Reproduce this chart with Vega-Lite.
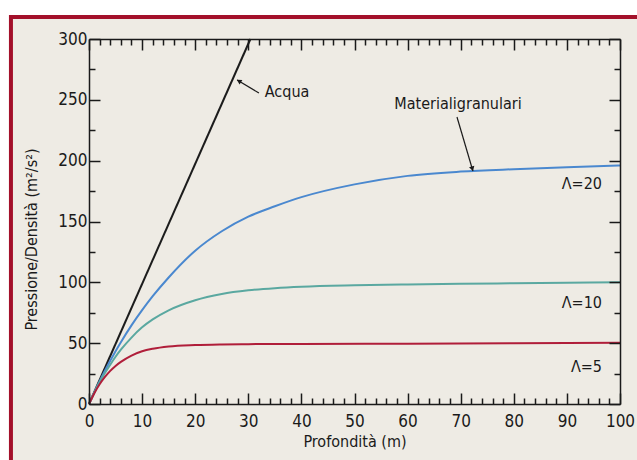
{
  "$schema": "https://vega.github.io/schema/vega-lite/v6.json",
  "width": 531,
  "height": 365,
  "autosize": {"type": "none"},
  "padding": {"left": 89, "top": 39, "right": 17, "bottom": 56},
  "background": "white",
  "config": {
    "view": {"stroke": null},
    "font": "'Liberation Sans Narrow', 'DejaVu Sans Condensed', 'Roboto Condensed', 'Liberation Sans', sans-serif",
    "axis": {
      "domainColor": "#1a1a1a",
      "domainWidth": 1.5,
      "tickColor": "#1a1a1a",
      "tickWidth": 1.5,
      "grid": false,
      "labelFont": "'Liberation Sans Narrow', 'DejaVu Sans Condensed', 'Roboto Condensed', 'Liberation Sans', sans-serif",
      "labelFontSize": 17,
      "labelColor": "#1a1a1a",
      "titleFont": "'Liberation Sans Narrow', 'DejaVu Sans Condensed', 'Roboto Condensed', 'Liberation Sans', sans-serif",
      "titleFontSize": 16,
      "titleFontWeight": "normal",
      "titleColor": "#1a1a1a"
    }
  },
  "datasets": {
    "curves": [
      {"series": "Acqua", "x": 0, "y": 0},
      {"series": "Acqua", "x": 30.4, "y": 300},
      {"series": "L20", "x": 0, "y": 0},
      {"series": "L20", "x": 1, "y": 9.6},
      {"series": "L20", "x": 2, "y": 18.7},
      {"series": "L20", "x": 3, "y": 27.3},
      {"series": "L20", "x": 4, "y": 35.5},
      {"series": "L20", "x": 5, "y": 43.4},
      {"series": "L20", "x": 6, "y": 50.8},
      {"series": "L20", "x": 8, "y": 64.6},
      {"series": "L20", "x": 10, "y": 77.1},
      {"series": "L20", "x": 12, "y": 88.6},
      {"series": "L20", "x": 15, "y": 104},
      {"series": "L20", "x": 20, "y": 126},
      {"series": "L20", "x": 25, "y": 142},
      {"series": "L20", "x": 30, "y": 154},
      {"series": "L20", "x": 35, "y": 162.5},
      {"series": "L20", "x": 40, "y": 170},
      {"series": "L20", "x": 50, "y": 180.5},
      {"series": "L20", "x": 60, "y": 187.5},
      {"series": "L20", "x": 70, "y": 191},
      {"series": "L20", "x": 80, "y": 193},
      {"series": "L20", "x": 90, "y": 194.6},
      {"series": "L20", "x": 100, "y": 196},
      {"series": "L10", "x": 0, "y": 0},
      {"series": "L10", "x": 1, "y": 9.3},
      {"series": "L10", "x": 2, "y": 17.8},
      {"series": "L10", "x": 3, "y": 25.4},
      {"series": "L10", "x": 4, "y": 32.3},
      {"series": "L10", "x": 5, "y": 38.8},
      {"series": "L10", "x": 6, "y": 44.6},
      {"series": "L10", "x": 8, "y": 54.6},
      {"series": "L10", "x": 10, "y": 63},
      {"series": "L10", "x": 12, "y": 69.5},
      {"series": "L10", "x": 15, "y": 77},
      {"series": "L10", "x": 20, "y": 85.3},
      {"series": "L10", "x": 25, "y": 90.4},
      {"series": "L10", "x": 30, "y": 93.4},
      {"series": "L10", "x": 35, "y": 95.2},
      {"series": "L10", "x": 40, "y": 96.4},
      {"series": "L10", "x": 50, "y": 97.6},
      {"series": "L10", "x": 60, "y": 98.3},
      {"series": "L10", "x": 70, "y": 98.8},
      {"series": "L10", "x": 80, "y": 99.2},
      {"series": "L10", "x": 90, "y": 99.6},
      {"series": "L10", "x": 100, "y": 100},
      {"series": "L5", "x": 0, "y": 0},
      {"series": "L5", "x": 1, "y": 8.9},
      {"series": "L5", "x": 2, "y": 16.2},
      {"series": "L5", "x": 3, "y": 22.2},
      {"series": "L5", "x": 4, "y": 27.2},
      {"series": "L5", "x": 5, "y": 31.3},
      {"series": "L5", "x": 6, "y": 34.6},
      {"series": "L5", "x": 8, "y": 39.8},
      {"series": "L5", "x": 10, "y": 43.3},
      {"series": "L5", "x": 12, "y": 45.4},
      {"series": "L5", "x": 15, "y": 47.3},
      {"series": "L5", "x": 20, "y": 48.5},
      {"series": "L5", "x": 25, "y": 49},
      {"series": "L5", "x": 30, "y": 49.2},
      {"series": "L5", "x": 40, "y": 49.4},
      {"series": "L5", "x": 60, "y": 49.6},
      {"series": "L5", "x": 80, "y": 49.9},
      {"series": "L5", "x": 100, "y": 50.3}
    ],
    "labelsCenter": [
      {"label": "Acqua", "x": 37.3, "y": 256.4},
      {"label": "Materialigranulari", "x": 69.5, "y": 246.6}
    ],
    "labelsRight": [
      {"label": "Λ=20", "x": 96.6, "y": 180.8},
      {"label": "Λ=10", "x": 96.6, "y": 83},
      {"label": "Λ=5", "x": 96.6, "y": 30.4}
    ],
    "arrows": [
      {"name": "Acqua", "x": 32.0, "y": 255.6, "x2": 27.9, "y2": 266.3},
      {"name": "Materiali", "x": 69.3, "y": 235.9, "x2": 72.3, "y2": 191.5}
    ],
    "headAcqua": [{"x": 28.36, "y": 265.1}],
    "headMateriali": [{"x": 72.15, "y": 193.9}]
  },
  "layer": [
    {
      "data": {"values": [{}]},
      "mark": {"type": "rect", "fill": "#EEEBE4", "stroke": "#A3102A", "strokeWidth": 4},
      "encoding": {
        "x": {"datum": -14.7, "type": "quantitative", "scale": {"domain": [0, 100], "nice": false}, "axis": null},
        "x2": {"datum": 140},
        "y": {"datum": 318.1, "type": "quantitative", "scale": {"domain": [0, 300], "nice": false}, "axis": null},
        "y2": {"datum": -90}
      }
    },
    {
      "data": {"name": "curves"},
      "mark": {"type": "line", "strokeWidth": 2, "interpolate": "monotone"},
      "encoding": {
        "x": {
          "field": "x", "type": "quantitative",
          "scale": {"domain": [0, 100], "nice": false},
          "axis": {
            "zindex": 2,
            "orient": "bottom",
            "values": [0,2,4,6,8,10,12,14,16,18,20,22,24,26,28,30,32,34,36,38,40,42,44,46,48,50,52,54,56,58,60,62,64,66,68,70,72,74,76,78,80,82,84,86,88,90,92,94,96,98,100],
            "tickSize": {"condition": {"test": "datum.value % 10 === 0", "value": -11}, "value": -6},
            "labelExpr": "datum.value % 10 === 0 ? datum.label : ''",
            "labelPadding": 20,
            "labelFlush": false,
            "labelOverlap": false,
            "title": "Profondità (m)",
            "titleY": 37,
            "titleBaseline": "middle"
          }
        },
        "y": {
          "field": "y", "type": "quantitative",
          "scale": {"domain": [0, 300], "nice": false},
          "axis": {
            "zindex": 2,
            "orient": "left",
            "values": [0,25,50,75,100,125,150,175,200,225,250,275,300],
            "tickSize": {"condition": {"test": "datum.value % 50 === 0", "value": -11}, "value": -6},
            "labelExpr": "datum.value % 50 === 0 ? datum.label : ''",
            "labelPadding": 13,
            "labelFlush": false,
            "labelOverlap": false,
            "title": "Pressione/Densità (m²/s²)",
            "titleAngle": -90,
            "titleAlign": "center",
            "titleBaseline": "middle",
            "titleX": -58,
            "titleY": 200
          }
        },
        "color": {
          "field": "series", "type": "nominal",
          "scale": {"domain": ["Acqua", "L20", "L10", "L5"], "range": ["#1c1c1c", "#4a88cf", "#5aa8a0", "#b01e3a"]},
          "legend": null
        }
      }
    },
    {
      "data": {"name": "arrows"},
      "mark": {"type": "rule", "color": "#1a1a1a", "strokeWidth": 1.2},
      "encoding": {
        "x": {"field": "x", "type": "quantitative", "axis": null},
        "y": {"field": "y", "type": "quantitative", "axis": null},
        "x2": {"field": "x2"},
        "y2": {"field": "y2"}
      }
    },
    {
      "data": {"name": "headAcqua"},
      "mark": {"type": "point", "shape": "triangle", "angle": 300.6, "filled": true, "color": "#1a1a1a", "size": 30, "opacity": 1},
      "encoding": {
        "x": {"field": "x", "type": "quantitative", "axis": null},
        "y": {"field": "y", "type": "quantitative", "axis": null}
      }
    },
    {
      "data": {"name": "headMateriali"},
      "mark": {"type": "point", "shape": "triangle", "angle": 163.5, "filled": true, "color": "#1a1a1a", "size": 30, "opacity": 1},
      "encoding": {
        "x": {"field": "x", "type": "quantitative", "axis": null},
        "y": {"field": "y", "type": "quantitative", "axis": null}
      }
    },
    {
      "data": {"name": "labelsCenter"},
      "mark": {"type": "text", "align": "center", "baseline": "middle", "fontSize": 16, "color": "#1a1a1a"},
      "encoding": {
        "x": {"field": "x", "type": "quantitative", "axis": null},
        "y": {"field": "y", "type": "quantitative", "axis": null},
        "text": {"field": "label"}
      }
    },
    {
      "data": {"name": "labelsRight"},
      "mark": {"type": "text", "align": "right", "baseline": "middle", "fontSize": 16, "color": "#1a1a1a"},
      "encoding": {
        "x": {
          "field": "x", "type": "quantitative",
          "axis": {
            "zindex": 2,
            "orient": "top",
            "values": [0,2,4,6,8,10,12,14,16,18,20,22,24,26,28,30,32,34,36,38,40,42,44,46,48,50,52,54,56,58,60,62,64,66,68,70,72,74,76,78,80,82,84,86,88,90,92,94,96,98,100],
            "tickSize": {"condition": {"test": "datum.value % 10 === 0", "value": -11}, "value": -6},
            "labels": false,
            "title": null
          }
        },
        "y": {
          "field": "y", "type": "quantitative",
          "axis": {
            "zindex": 2,
            "orient": "right",
            "values": [0,25,50,75,100,125,150,175,200,225,250,275,300],
            "tickSize": {"condition": {"test": "datum.value % 50 === 0", "value": -11}, "value": -6},
            "labels": false,
            "title": null
          }
        },
        "text": {"field": "label"}
      }
    }
  ],
  "resolve": {"axis": {"x": "independent", "y": "independent"}}
}
